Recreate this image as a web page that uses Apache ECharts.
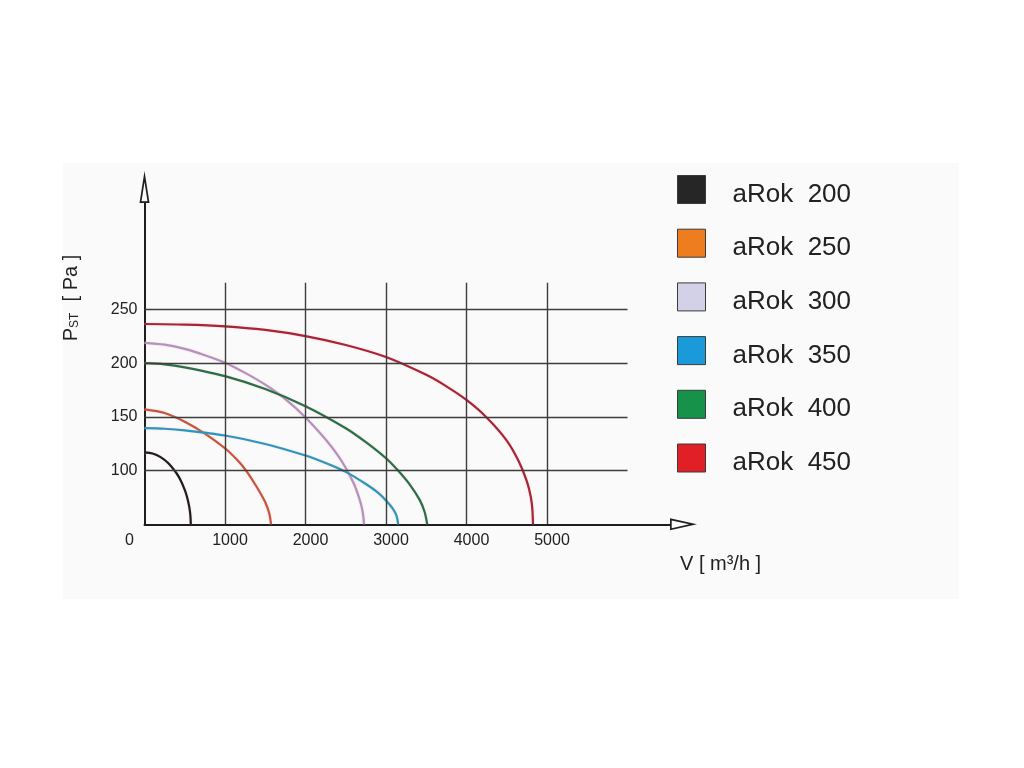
<!DOCTYPE html>
<html>
<head>
<meta charset="utf-8">
<style>html,body{margin:0;padding:0;background:#fff;}#c{width:1024px;height:768px;}</style>
<script src="https://cdn.jsdelivr.net/npm/echarts@6/dist/echarts.min.js"></script>
</head>
<body>
<div id="c"></div>
<script>
// ---- data (V [m3/h], Pst [Pa]) ----
const seriesNames = ['aRok  200', 'aRok  250', 'aRok  300', 'aRok  350', 'aRok  400', 'aRok  450'];
const arok200 = [[0,117],[100,115.9],[200,112.5],[300,106.6],[400,97.3],[450,90.8],[500,82.1],[530,75],[555,66.7],[570,58.3],[575,50]];
const arok250 = [[0,157],[250,153.6],[500,145.5],[750,134.5],[1000,120.8],[1150,110],[1262,100],[1400,84],[1500,70.5],[1550,60],[1572,50]];
const arok300 = [[0,219],[250,217.3],[500,213.4],[750,207.5],[1000,200.5],[1250,191],[1500,180],[1750,166.5],[2000,149.5],[2250,129],[2400,114.5],[2500,102.5],[2600,88],[2660,76],[2700,65.5],[2720,56.5],[2726,50]];
const arok350 = [[0,139.5],[250,139],[500,137.5],[1000,132.7],[1500,124.8],[2000,114],[2250,107],[2500,98.8],[2750,87.5],[2900,79.5],[3000,72.2],[3080,65],[3130,58],[3152,50]];
const arok400 = [[0,200],[250,199],[500,196.2],[1000,188],[1500,176],[2000,160],[2500,139.5],[2750,126.5],[3000,111.5],[3150,100],[3300,86.5],[3420,72.5],[3480,61.5],[3512,50]];
const arok450 = [[0,236.5],[500,236],[1000,234.4],[1500,231],[2000,225.3],[2500,217],[3000,205.8],[3500,189.2],[3750,178.5],[4000,165.8],[4250,149.5],[4500,128],[4650,108.5],[4750,90],[4800,75],[4818,64],[4826,50]];
const curveData = [arok200, arok250, arok300, arok350, arok400, arok450];
const curveColors = ['#1c1c1c', '#c4553e', '#b392c0', '#2a97bf', '#27704a', '#a82437'];
const legendColors = ['#262626', '#ee7d1f', '#d3d1e8', '#1b9ad9', '#16924a', '#e11f26'];
const xTickLabels = [1000, 2000, 3000, 4000, 5000];
const yTickLabels = [100, 150, 200, 250];
const vGridX = [1000, 2000, 3000, 4000, 5000];
const hGridY = [100, 150, 200, 250];
const baseP = 50, vGridTop = 275, hGridRight = 6000;

const chart = echarts.init(document.getElementById('c'));
const FONT = '"Liberation Sans", Arial, sans-serif';

const gridLines = [];
vGridX.forEach(v => gridLines.push([{coord: [v, baseP]}, {coord: [v, vGridTop]}]));
hGridY.forEach(p => gridLines.push([{coord: [0, p]}, {coord: [hGridRight, p]}]));

const series = [{
  type: 'line', name: '_grid', data: [], z: 1, silent: true,
  markLine: {
    silent: true, symbol: 'none', label: {show: false},
    lineStyle: {color: '#3c3c3c', width: 1.4, type: 'solid'},
    emphasis: {disabled: true},
    data: gridLines, animation: false
  }
}];
seriesNames.forEach((n, i) => {
  series.push({
    type: 'line', name: n, data: curveData[i], z: 3,
    showSymbol: false, smooth: 0.3,
    lineStyle: {color: curveColors[i], width: 2.2, shadowColor: 'rgba(255,170,170,0.45)', shadowBlur: 2},
    itemStyle: {color: legendColors[i]},
    animation: false
  });
});

chart.setOption({
  backgroundColor: '#ffffff',
  animation: false,
  graphic: [
    {type: 'rect', left: 63, top: 163, z: -10, shape: {width: 896, height: 436}, style: {fill: '#fafafa'}},
    {type: 'text', x: 71, y: 298, rotation: Math.PI / 2, z: 10,
      style: {
        text: '{a|P}{s|ST}{a|  [ Pa ]}', align: 'center', verticalAlign: 'middle',
        rich: {
          a: {fontSize: 20, fontFamily: FONT, fill: '#222'},
          s: {fontSize: 12, fontFamily: FONT, fill: '#222', verticalAlign: 'bottom', padding: [7, 0, 0, 0]}
        }
      }},
    {type: 'text', x: 680, y: 564, z: 10,
      style: {text: 'V [ m³/h ]', fontSize: 20, fontFamily: FONT, fill: '#222', verticalAlign: 'middle', align: 'left'}}
  ],
  grid: {left: 144.5, right: 354, top: 203, bottom: 243.7, containLabel: false},
  legend: {
    orient: 'vertical', left: 677, top: 175, padding: 0,
    itemWidth: 28, itemHeight: 28, itemGap: 21.2,
    icon: 'rect', selectedMode: false,
    itemStyle: {borderColor: '#3a3a3a', borderWidth: 1},
    formatter: n => '{t|' + n + '}',
    textStyle: {
      fontSize: 26, fontFamily: FONT, color: '#222',
      rich: {t: {fontSize: 26, fontFamily: FONT, color: '#222', padding: [10, 0, 0, 22]}}
    },
    data: seriesNames.map((n, i) => ({name: n, itemStyle: {color: legendColors[i], borderColor: '#3a3a3a', borderWidth: 1}}))
  },
  xAxis: {
    type: 'value', min: 0, max: 6528, interval: 1000,
    axisLine: {
      show: true, onZero: false,
      lineStyle: {color: '#1e1e1e', width: 2},
      symbol: ['none', 'path://M6 0 L12 27 L0 27 Z M6 7.8 L2.1 25.3 L9.9 25.3 Z'],
      symbolSize: [12, 27], symbolOffset: [0, 13.5]
    },
    axisTick: {show: false},
    splitLine: {show: false},
    axisLabel: {
      show: true, margin: 8, showMaxLabel: false,
      formatter: v => v === 0 ? '{z|0}' : (xTickLabels.indexOf(v) >= 0 ? '{n|' + v + '}' : ''),
      rich: {
        z: {fontSize: 16, fontFamily: FONT, color: '#222', padding: [0, 30, 0, 0]},
        n: {fontSize: 16, fontFamily: FONT, color: '#222', padding: [0, 0, 0, 10]}
      }
    }
  },
  yAxis: {
    type: 'value', min: 50, max: 349.2, interval: 50,
    axisLine: {
      show: true, onZero: false,
      lineStyle: {color: '#1e1e1e', width: 2},
      symbol: ['none', 'path://M5 0 L10 32 L0 32 Z M5 11 L2 30.3 L8 30.3 Z'],
      symbolSize: [10, 32], symbolOffset: [0, 16]
    },
    axisTick: {show: false},
    splitLine: {show: false},
    axisLabel: {
      show: true, margin: 7, fontSize: 16, fontFamily: FONT, color: '#222', showMaxLabel: false,
      formatter: v => yTickLabels.indexOf(v) >= 0 ? String(v) : ''
    }
  },
  series: series
});
</script>
</body>
</html>
